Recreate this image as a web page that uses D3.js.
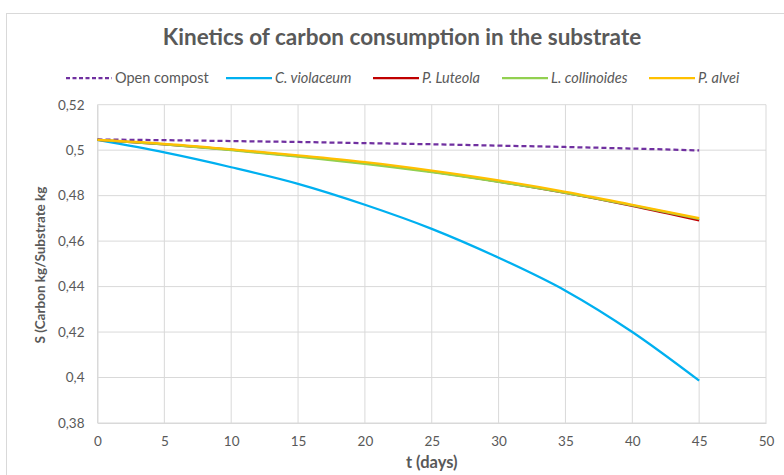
<!DOCTYPE html>
<html>
<head>
<meta charset="utf-8">
<script src="https://cdn.jsdelivr.net/npm/d3@7"></script>
<style>
  body { margin: 0; background: #fff; }
  text { font-family: Lato, "Open Sans", sans-serif; fill: #595959; }
</style>
</head>
<body>
<div id="chart"></div>
<script>
var days = [0, 5, 10, 15, 20, 25, 30, 35, 40, 45];
var openCompost  = [0.5047, 0.5044, 0.5040, 0.5036, 0.5031, 0.5026, 0.5020, 0.5014, 0.5007, 0.4999];
var cViolaceum   = [0.5045, 0.4990, 0.4925, 0.4852, 0.4760, 0.4654, 0.4527, 0.4382, 0.4200, 0.3986];
var pLuteola     = [0.5045, 0.5026, 0.5002, 0.4974, 0.4943, 0.4906, 0.4862, 0.4812, 0.4755, 0.4691];
var lCollinoides = [0.5045, 0.5025, 0.5000, 0.4972, 0.4940, 0.4903, 0.4860, 0.4812, 0.4757, 0.4698];
var pAlvei       = [0.5045, 0.5028, 0.5004, 0.4977, 0.4947, 0.4910, 0.4867, 0.4817, 0.4760, 0.4701];

var xTicks = [0, 5, 10, 15, 20, 25, 30, 35, 40, 45, 50];
var yTicks = [0.38, 0.40, 0.42, 0.44, 0.46, 0.48, 0.50, 0.52];

var series = [
  {name: 'Open compost',   values: openCompost,  color: '#7030A0', dash: '5,3', italic: false},
  {name: 'C. violaceum',   values: cViolaceum,   color: '#00B0F0', dash: null, italic: true},
  {name: 'P. Luteola',     values: pLuteola,     color: '#C00000', dash: null, italic: true},
  {name: 'L. collinoides', values: lCollinoides, color: '#92D050', dash: null, italic: true},
  {name: 'P. alvei',       values: pAlvei,       color: '#FFC000', dash: null, italic: true}
];

var width = 784, height = 475;
var svg = d3.select('#chart').append('svg')
  .attr('width', width)
  .attr('height', height);

// outer chart border
svg.append('rect')
  .attr('x', 6.5).attr('y', 13.5)
  .attr('width', 820).attr('height', 520)
  .style('fill', 'none')
  .style('stroke', '#D9D9D9');

var x = d3.scaleLinear().domain([0, 50]).range([97.5, 766]);
var y = d3.scaleLinear().domain([0.38, 0.52]).range([423, 104.7]);

var fmt = function(d) { return d3.format('.2~f')(d).replace('.', ','); };

// gridlines
svg.append('g')
  .selectAll('line')
  .data(yTicks)
  .enter().append('line')
  .attr('x1', x(0)).attr('x2', x(50))
  .attr('y1', function(d) { return y(d); })
  .attr('y2', function(d) { return y(d); })
  .style('stroke', '#D9D9D9').style('stroke-width', 1);

svg.append('g')
  .selectAll('line')
  .data(xTicks)
  .enter().append('line')
  .attr('y1', y(0.38)).attr('y2', y(0.52))
  .attr('x1', function(d) { return x(d); })
  .attr('x2', function(d) { return x(d); })
  .style('stroke', '#D9D9D9').style('stroke-width', 1);

// axes
var xAxis = svg.append('g')
  .attr('transform', 'translate(0,' + y(0.38) + ')')
  .call(d3.axisBottom(x).tickValues(xTicks).tickSize(0).tickPadding(13));
var yAxis = svg.append('g')
  .attr('transform', 'translate(' + x(0) + ',0)')
  .call(d3.axisLeft(y).tickValues(yTicks).tickSize(0).tickPadding(13).tickFormat(fmt));

[xAxis, yAxis].forEach(function(a) {
  a.select('.domain').style('stroke', '#D9D9D9');
  a.selectAll('text')
    .style('font-family', 'Lato, "Open Sans", sans-serif')
    .style('font-size', '13.5px')
    .style('fill', '#595959');
});

// lines
var line = d3.line()
  .x(function(d, i) { return x(days[i]); })
  .y(function(d) { return y(d); })
  .curve(d3.curveMonotoneX);

svg.append('g')
  .selectAll('path')
  .data(series)
  .enter().append('path')
  .attr('d', function(d) { return line(d.values); })
  .style('fill', 'none')
  .style('stroke', function(d) { return d.color; })
  .style('stroke-width', 2.25)
  .style('stroke-dasharray', function(d) { return d.dash; });

// title
svg.append('text')
  .attr('x', 402).attr('y', 45)
  .attr('text-anchor', 'middle')
  .style('font-size', '22.5px')
  .style('font-weight', 'bold')
  .text('Kinetics of carbon consumption in the substrate');

// legend
var legendX = [66, 226, 373, 502, 649];
var legend = svg.append('g')
  .selectAll('g')
  .data(series)
  .enter().append('g')
  .attr('transform', function(d, i) { return 'translate(' + legendX[i] + ',78)'; });

legend.append('line')
  .attr('x1', 0).attr('x2', 46)
  .style('stroke', function(d) { return d.color; })
  .style('stroke-width', 2.25)
  .style('stroke-dasharray', function(d) { return d.dash ? '4,2.5' : null; });

legend.append('text')
  .attr('x', 49).attr('y', 5)
  .style('font-size', '14.5px')
  .style('font-style', function(d) { return d.italic ? 'italic' : 'normal'; })
  .text(function(d) { return d.name; });

// axis titles
svg.append('text')
  .attr('x', x(25)).attr('y', 468)
  .attr('text-anchor', 'middle')
  .style('font-size', '16.5px')
  .style('font-weight', 'bold')
  .text('t (days)');

svg.append('text')
  .attr('transform', 'translate(45,265) rotate(-90)')
  .attr('text-anchor', 'middle')
  .style('font-size', '13.5px')
  .style('font-weight', 'bold')
  .text('S (Carbon kg/Substrate kg');
</script>
</body>
</html>
